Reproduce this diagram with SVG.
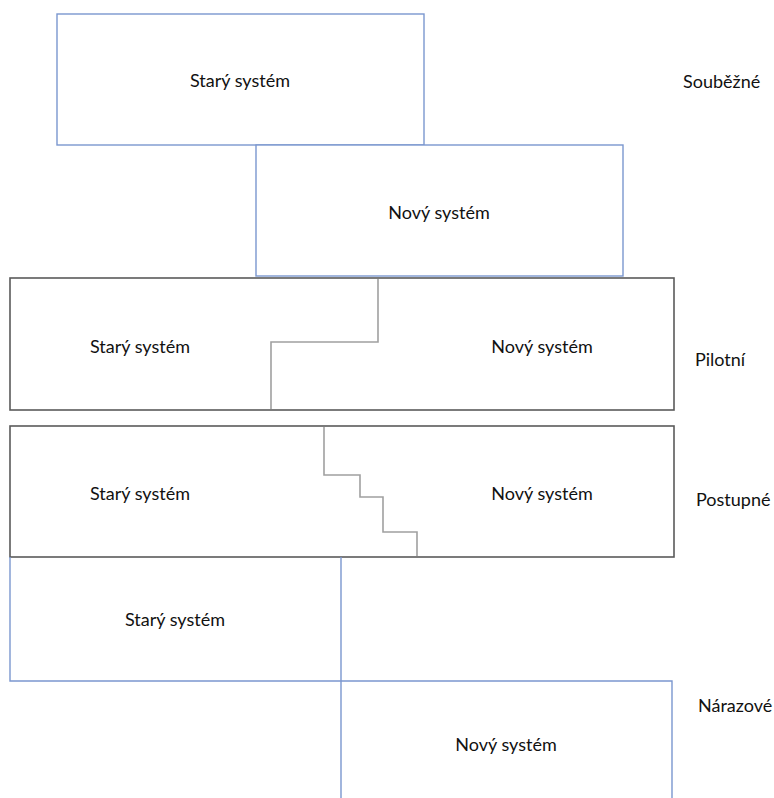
<svg xmlns="http://www.w3.org/2000/svg" width="774" height="798" viewBox="0 0 774 798">
  <style>
    .blue { fill: #ffffff; stroke: #7b97cf; stroke-width: 1.4; }
    .gray { fill: #ffffff; stroke: #5a5a5a; stroke-width: 1.6; }
    .step { fill: none; stroke: #a0a0a0; stroke-width: 1.6; }
    .edge { fill: none; stroke: #7b97cf; stroke-width: 1.4; }
    text { font-family: Lato, "Open Sans", sans-serif; font-size: 18px; fill: #111111; text-anchor: middle; dominant-baseline: central; }
    .side { text-anchor: start; }
  </style>
  <rect width="774" height="798" fill="#ffffff"/>

  <!-- Souběžné: old and new run side by side -->
  <g id="soubezne-stary">
    <rect class="blue" x="57" y="14" width="367" height="131"/>
    <text x="240" y="80">Starý systém</text>
  </g>
  <g id="soubezne-novy">
    <rect class="blue" x="256" y="145" width="367" height="131"/>
    <text x="439" y="212">Nový systém</text>
  </g>
  <g id="label-soubezne">
    <text class="side" x="683" y="81">Souběžné</text>
  </g>

  <!-- Pilotní -->
  <g id="pilotni">
    <rect class="gray" x="10" y="278" width="664" height="132"/>
    <text x="140" y="346">Starý systém</text>
    <text x="542" y="346">Nový systém</text>
  </g>
  <g id="label-pilotni">
    <text class="side" x="695" y="359">Pilotní</text>
  </g>

  <!-- Postupné -->
  <g id="postupne">
    <rect class="gray" x="10" y="426" width="664" height="131"/>
    <text x="140" y="493">Starý systém</text>
    <text x="542" y="493">Nový systém</text>
  </g>
  <g id="label-postupne">
    <text class="side" x="696" y="499">Postupné</text>
  </g>

  <!-- Nárazové -->
  <g id="narazove-stary">
    <path class="edge" d="M10,557 V681 H341"/>
    <text x="175" y="619">Starý systém</text>
  </g>
  <g id="narazove-novy">
    <path class="edge" d="M341,557 V798 M341,681 H672 V798"/>
    <text x="506" y="744">Nový systém</text>
  </g>
  <g id="label-narazove">
    <text class="side" x="698" y="705">Nárazové</text>
  </g>

  <!-- dividing lines between old and new -->
  <g id="connectors">
    <path class="step" d="M378,279 V342 H271 V409"/>
    <path class="step" d="M324,427 V475 H360 V497 H383 V532 H417 V556"/>
  </g>
</svg>
